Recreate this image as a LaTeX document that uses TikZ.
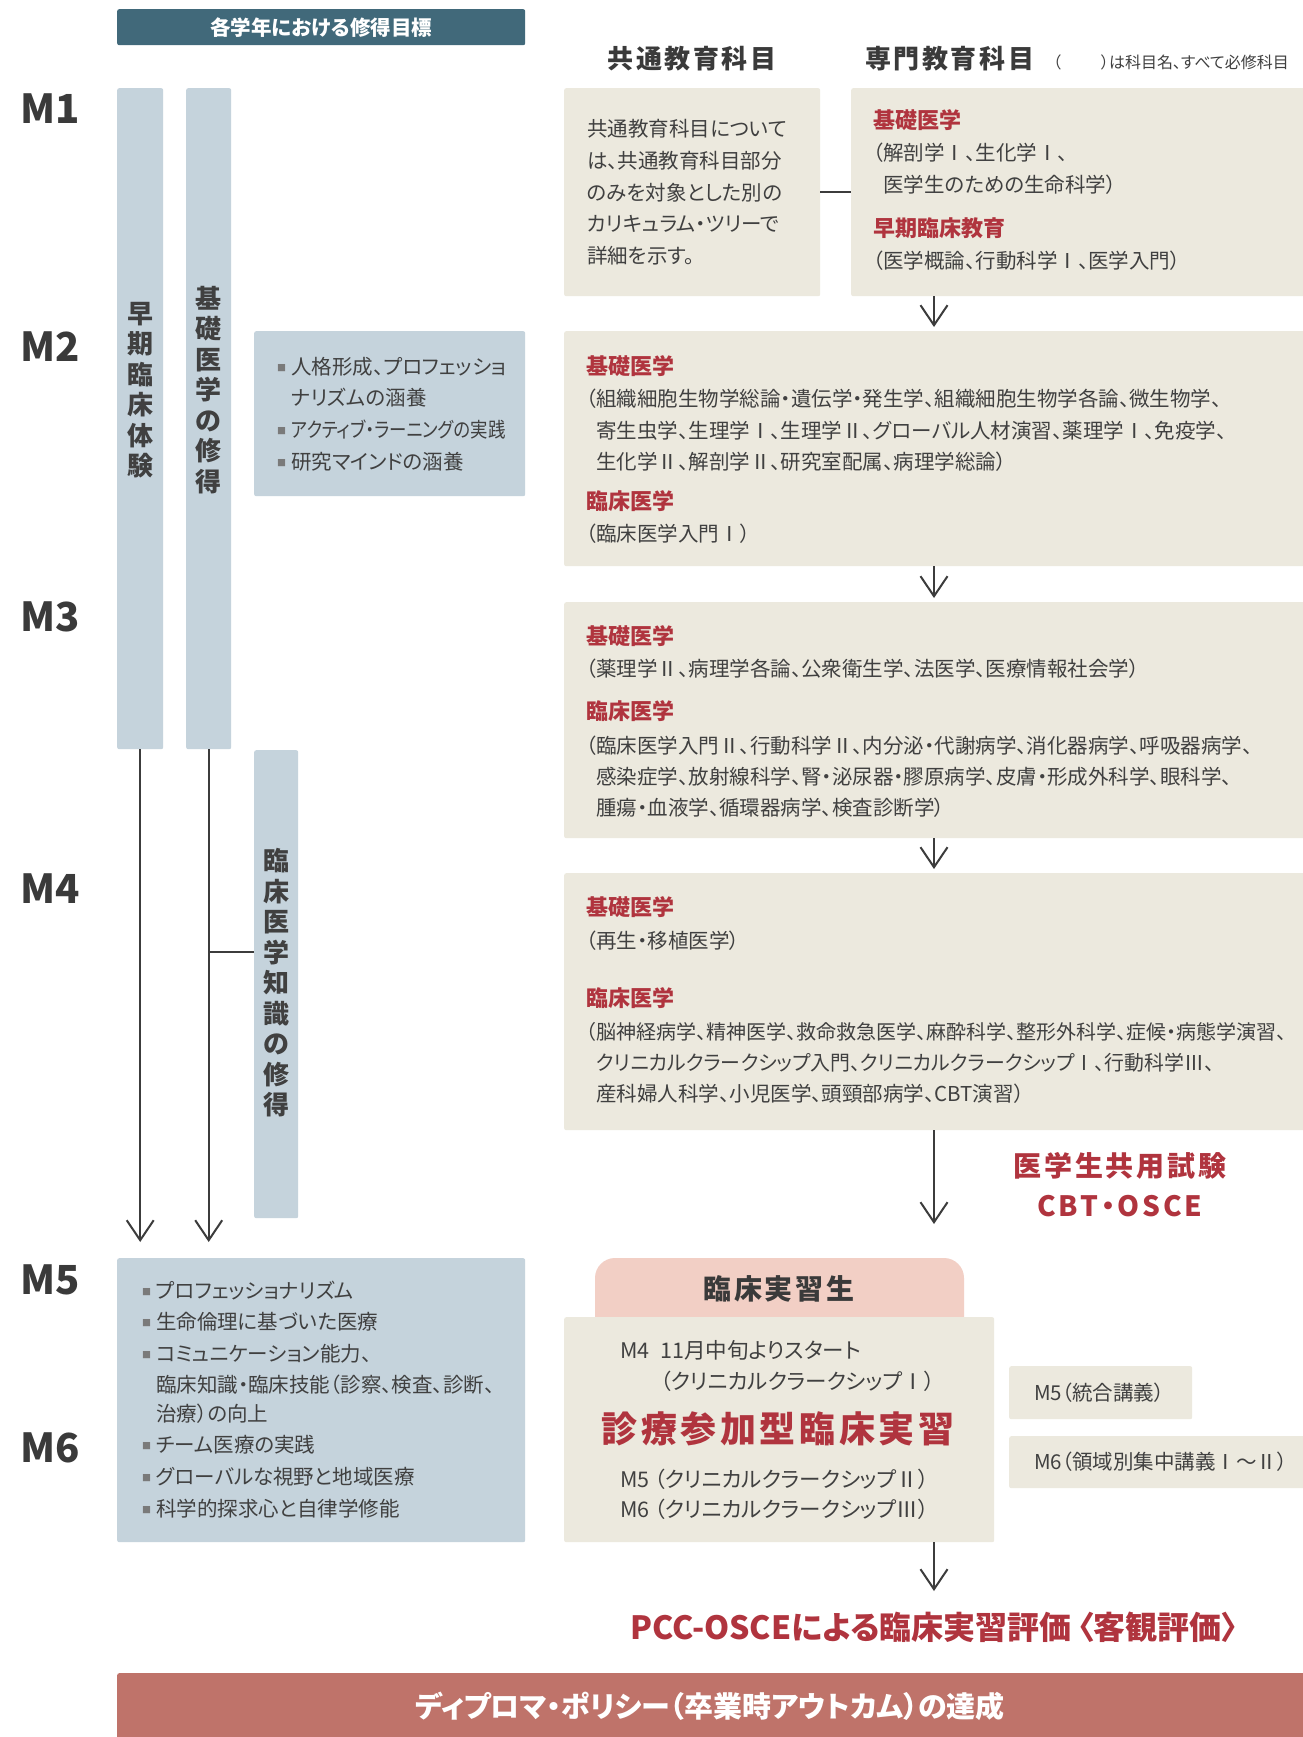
\documentclass[tikz,border=0pt]{standalone}
\usepackage{fontspec}
\setmainfont{Noto Sans CJK JP}[RawFeature=+palt]
\newfontfamily\jpsp{Noto Sans CJK JP}[RawFeature=+palt,LetterSpace=10]
\usetikzlibrary{arrows.meta}
\definecolor{hdrcol}{HTML}{41697A}
\definecolor{bluecol}{HTML}{C5D3DC}
\definecolor{beigecol}{HTML}{ECE9DE}
\definecolor{redcol}{HTML}{B0343E}
\definecolor{pinkcol}{HTML}{F2CFC5}
\definecolor{barcol}{HTML}{BF736A}
\definecolor{txtcol}{HTML}{404040}
\definecolor{mcol}{HTML}{3A3A3A}
\definecolor{arrcol}{HTML}{3C3C3C}
\definecolor{bulcol}{HTML}{7A7A7A}
\newcommand\setfs[2]{\fontsize{#1}{#2}\selectfont}
\newcommand\sqb{\raisebox{3pt}{\textcolor{bulcol}{\setfs{9}{9}■}}\hspace{5pt}}
\begin{document}
\begin{tikzpicture}[x=1pt,y=-1pt,
 bx/.style={rectangle, inner sep=0pt, anchor=north west, rounded corners=2pt},
 bluebx/.style={bx, fill=bluecol},
 beigebx/.style={bx, fill=beigecol},
 tbody/.style={anchor=west, inner sep=0pt, text=txtcol, font=\setfs{20.5}{24}},
 gbody/.style={anchor=west, inner sep=0pt, text=txtcol, font=\setfs{21.5}{24}},
 thead/.style={anchor=west, inner sep=0pt, text=redcol, font=\bfseries\setfs{22}{26}},
 mlab/.style={anchor=west, inner sep=0pt, text=mcol, font=\bfseries\setfs{40}{44}},
 vtext/.style={align=center, inner sep=0pt, text=txtcol, font=\bfseries\setfs{26}{30.5}},
 bigred/.style={anchor=center, inner sep=0pt, text=redcol, font=\jpsp\bfseries\setfs{28}{32}},
 arr/.style={draw=arrcol, line width=2pt, -{Straight Barb[length=20pt,width=27pt]}},
 conn/.style={draw=arrcol, line width=2pt}]
\useasboundingbox (0,0) rectangle (1303,1737);
\fill[white] (0,0) rectangle (1303,1737);

% header
\node[bx, fill=hdrcol, minimum width=408pt, minimum height=36pt, text=white, font=\bfseries\setfs{20.5}{22}] (hdr) at (117,9) {各学年における修得目標};
\node[anchor=center, inner sep=0pt, text=mcol, font=\jpsp\bfseries\setfs{26}{30}] (h1) at (692,59) {共通教育科目};
\node[anchor=west, inner sep=0pt, text=mcol, font=\jpsp\bfseries\setfs{26}{30}] (h2) at (865,59) {専門教育科目};
\node[anchor=east, inner sep=0pt, text=txtcol, font=\setfs{16}{18}] (h3) at (1289,62) {（\hspace{2.5em}）は科目名、すべて必修科目};

% year labels
\node[mlab] (m1) at (20,109) {M1};
\node[mlab] (m2) at (20,347) {M2};
\node[mlab] (m3) at (20,617) {M3};
\node[mlab] (m4) at (20,889) {M4};
\node[mlab] (m5) at (20,1280) {M5};
\node[mlab] (m6) at (20,1448) {M6};

% columns
\node[bluebx, minimum width=46pt, minimum height=661pt] (c1) at (117,88) {};
\node[bluebx, minimum width=45pt, minimum height=661pt] (c2) at (186,88) {};
\node[bluebx, minimum width=44pt, minimum height=468pt] (c3) at (254,750) {};
\node[vtext] (c1t) at (140,390) {早\\期\\臨\\床\\体\\験};
\node[vtext] (c2t) at (208.5,390) {基\\礎\\医\\学\\の\\修\\得};
\node[vtext] (c3t) at (276,983) {臨\\床\\医\\学\\知\\識\\の\\修\\得};

% boxes
\node[beigebx, minimum width=256pt, minimum height=208pt] (A) at (564,88) {};
\node[beigebx, minimum width=460pt, minimum height=208pt] (B) at (851,88) {};
\node[bluebx, minimum width=271pt, minimum height=165pt] (P) at (254,331) {};
\node[beigebx, minimum width=750pt, minimum height=235pt] (C) at (564,331) {};
\node[beigebx, minimum width=750pt, minimum height=236pt] (D) at (564,602) {};
\node[beigebx, minimum width=750pt, minimum height=257pt] (E) at (564,873) {};
\node[bluebx, minimum width=408pt, minimum height=284pt] (F) at (117,1258) {};
\fill[pinkcol, rounded corners=20pt] (595,1258) rectangle (964,1345);
\node[beigebx, minimum width=430pt, minimum height=225pt] (G) at (564,1317) {};
\node[beigebx, minimum width=183pt, minimum height=53pt] (H) at (1009,1366) {};
\node[beigebx, minimum width=305pt, minimum height=52pt] (I) at (1009,1436) {};
\node[bx, fill=barcol, minimum width=1200pt, minimum height=72pt] (bar) at (117,1673) {};
\node[anchor=center, inner sep=0pt, text=white, font=\bfseries\setfs{29}{31}] (bart) at (710,1706) {ディプロマ・ポリシー（卒業時アウトカム）の達成};

% box A
\node[tbody] (a1) at (587,129) {共通教育科目について};
\node[tbody] (a2) at (587,161) {は、共通教育科目部分};
\node[tbody] (a3) at (587,193) {のみを対象とした別の};
\node[tbody] (a4) at (587,224) {カリキュラム・ツリーで};
\node[tbody] (a5) at (587,256) {詳細を示す。};

% box B
\node[thead] (b1) at (873,120) {基礎医学};
\node[tbody] (b2) at (873,153) {（解剖学Ⅰ、生化学Ⅰ、};
\node[tbody] (b3) at (873,185) {\hspace{0.5em}医学生のための生命科学）};
\node[thead] (b4) at (873,228) {早期臨床教育};
\node[tbody] (b5) at (873,261) {（医学概論、行動科学Ⅰ、医学入門）};

% box P
\node[tbody] (p1) at (277,367) {\sqb 人格形成、プロフェッショ};
\node[tbody] (p2) at (291,398) {ナリズムの涵養};
\node[tbody] (p3) at (277,430) {\sqb \scalebox{0.85}[1]{アクティブ・ラーニングの実践}};
\node[tbody] (p4) at (277,462) {\sqb 研究マインドの涵養};

% box C
\node[thead] (cc1) at (586,366) {基礎医学};
\node[tbody] (cc2) at (586,399) {（組織細胞生物学総論・遺伝学・発生学、組織細胞生物学各論、微生物学、};
\node[tbody] (cc3) at (586,431) {\hspace{0.5em}寄生虫学、生理学Ⅰ、生理学Ⅱ、グローバル人材演習、薬理学Ⅰ、免疫学、};
\node[tbody] (cc4) at (586,462) {\hspace{0.5em}生化学Ⅱ、解剖学Ⅱ、研究室配属、病理学総論）};
\node[thead] (cc5) at (586,501) {臨床医学};
\node[tbody] (cc6) at (586,534) {（臨床医学入門Ⅰ）};

% box D
\node[thead] (d1) at (586,636) {基礎医学};
\node[tbody] (d2) at (586,669) {（薬理学Ⅱ、病理学各論、公衆衛生学、法医学、医療情報社会学）};
\node[thead] (d3) at (586,711) {臨床医学};
\node[tbody] (d4) at (586,746) {（臨床医学入門Ⅱ、行動科学Ⅱ、内分泌・代謝病学、消化器病学、呼吸器病学、};
\node[tbody] (d5) at (586,777) {\hspace{0.5em}感染症学、放射線科学、腎・泌尿器・膠原病学、皮膚・形成外科学、眼科学、};
\node[tbody] (d6) at (586,808) {\hspace{0.5em}腫瘍・血液学、循環器病学、検査診断学）};

% box E
\node[thead] (e1) at (586,907) {基礎医学};
\node[tbody] (e2) at (586,941) {（再生・移植医学）};
\node[thead] (e3) at (586,998) {臨床医学};
\node[tbody, font=\setfs{20}{24}] (e4) at (586,1032) {（脳神経病学、精神医学、救命救急医学、麻酔科学、整形外科学、症候・病態学演習、};
\node[tbody] (e5) at (586,1063) {\hspace{0.5em}\scalebox{0.97}[1]{クリニカルクラークシップ入門、クリニカルクラークシップⅠ、行動科学Ⅲ、}};
\node[tbody] (e6) at (586,1094) {\hspace{0.5em}産科婦人科学、小児医学、頭頸部病学、CBT演習）};

% CBT
\node[bigred] (cbt1) at (1120,1166) {医学生共用試験};
\node[bigred] (cbt2) at (1120,1206) {CBT・OSCE};

% box F
\node[tbody] (f1) at (142,1291) {\sqb プロフェッショナリズム};
\node[tbody] (f2) at (142,1322) {\sqb 生命倫理に基づいた医療};
\node[tbody] (f3) at (142,1354) {\sqb コミュニケーション能力、};
\node[tbody] (f4) at (156,1385) {臨床知識・臨床技能（診察、検査、診断、};
\node[tbody] (f5) at (156,1414) {治療）の向上};
\node[tbody] (f6) at (142,1445) {\sqb チーム医療の実践};
\node[tbody] (f7) at (142,1477) {\sqb グローバルな視野と地域医療};
\node[tbody] (f8) at (142,1509) {\sqb 科学的探求心と自律学修能};

% tab and box G
\node[anchor=center, inner sep=0pt, text=mcol, font=\jpsp\bfseries\setfs{28}{30}] (tab) at (779,1289) {臨床実習生};
\node[gbody] (g1) at (620,1350) {M4\hspace{0.5em}11月中旬よりスタート};
\node[gbody] (g2) at (660,1381) {（クリニカルクラークシップⅠ）};
\node[anchor=center, inner sep=0pt, text=redcol, font=\jpsp\bfseries\setfs{36}{40}] (g3) at (778,1429) {診療参加型臨床実習};
\node[gbody] (g4) at (620,1479) {M5 （クリニカルクラークシップⅡ）};
\node[gbody] (g5) at (620,1509) {M6 （クリニカルクラークシップⅢ）};

\node[tbody] (h1t) at (1034,1393) {M5（統合講義）};
\node[tbody] (i1t) at (1034,1462) {M6（領域別集中講義Ⅰ～Ⅱ）};

% PCC
\node[anchor=center, inner sep=0pt, text=redcol, font=\bfseries\setfs{32}{34}] (pcc) at (934,1627) {PCC-OSCEによる臨床実習評価\hspace{0.2em}〈客観評価〉};

% connectors
\coordinate (ax) at (934,0);
\coordinate (jy) at (0,952);
\coordinate (cbtend) at (934,1224);
\coordinate (pccend) at (934,1591);
\draw[conn] (A.east) -- (B.west);
\draw[arr, shorten >=4pt] (B.south -| ax) -- (C.north -| ax);
\draw[arr, shorten >=4pt] (C.south -| ax) -- (D.north -| ax);
\draw[arr, shorten >=4pt] (D.south -| ax) -- (E.north -| ax);
\draw[arr] (E.south -| ax) -- (cbtend);
\draw[arr] (G.south -| ax) -- (pccend);
\draw[arr, shorten >=16pt] (c1.south) -- (c1.south |- F.north);
\draw[arr, shorten >=16pt] (c2.south) -- (c2.south |- F.north);
\draw[conn] (c2.south |- jy) -- (c3.west |- jy);
\end{tikzpicture}
\end{document}
